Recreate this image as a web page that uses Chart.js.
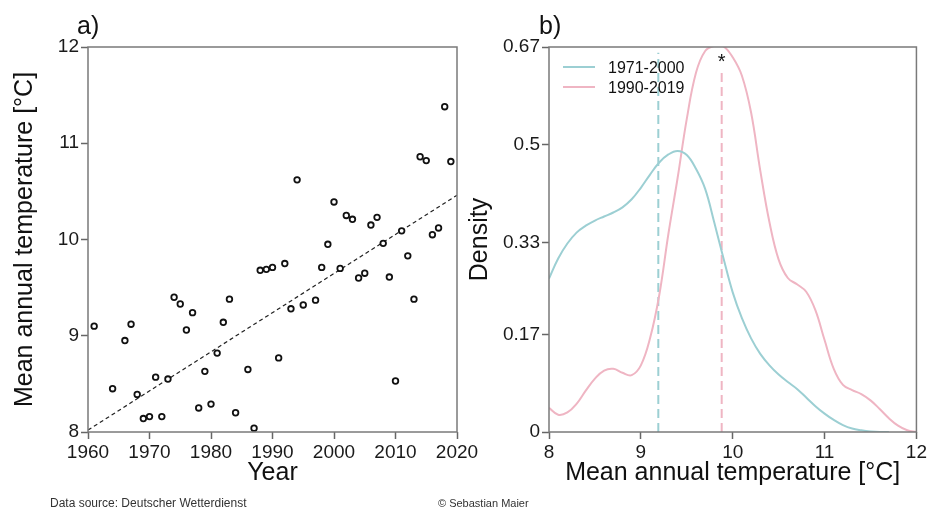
<!DOCTYPE html>
<html>
<head>
<meta charset="utf-8">
<script src="https://cdn.jsdelivr.net/npm/chart.js@4.4.1/dist/chart.umd.min.js"></script>
<style>
  body { margin:0; background:#fff; font-family:"Liberation Sans", Arial, sans-serif; }
  #wrap { position:relative; width:929px; height:507px; overflow:hidden; background:#fff; }
  #c1 { position:absolute; left:0; top:0; }
  #c2 { position:absolute; left:465px; top:0; }
  .panel { position:absolute; top:10px; font-size:25px; line-height:30px; color:#111; }
  .foot { position:absolute; top:497px; line-height:12px; color:#333; white-space:nowrap; }
  .leg { position:absolute; left:563px; font-size:16px; line-height:20px; color:#111; }
  .leg span.line { display:inline-block; width:32px; height:0; border-top:2px solid; vertical-align:middle; margin-right:13px; position:relative; top:-2px; }
</style>
</head>
<body>
<div id="wrap">
  <canvas id="c1" width="485" height="507"></canvas>
  <canvas id="c2" width="464" height="507"></canvas>
  <div class="panel" style="left:77px">a)</div>
  <div class="panel" style="left:539px">b)</div>
  <div id="legend"></div>
  <div class="foot" style="left:50px; font-size:12px">Data source: Deutscher Wetterdienst</div>
  <div class="foot" style="left:438px; font-size:11px">© Sebastian Maier</div>
</div>
<script>
// ---------- Dados: painel a) ----------
const years = [1961,1964,1966,1967,1968,1969,1970,1971,1972,1973,1974,1975,1976,1977,1978,1979,
  1980,1981,1982,1983,1984,1986,1987,1988,1989,1990,1991,1992,1993,1994,1995,1997,1998,1999,
  2000,2001,2002,2003,2004,2005,2006,2007,2008,2009,2010,2011,2012,2013,2014,2015,2016,2017,2018,2019];
const annualTemp = [9.10,8.45,8.95,9.12,8.39,8.14,8.16,8.57,8.16,8.55,9.40,9.33,9.06,9.24,8.25,8.63,
  8.29,8.82,9.14,9.38,8.20,8.65,8.04,9.68,9.69,9.71,8.77,9.75,9.28,10.62,9.32,9.37,9.71,9.95,
  10.39,9.70,10.25,10.21,9.60,9.65,10.15,10.23,9.96,9.61,8.53,10.09,9.83,9.38,10.86,10.82,10.05,10.12,11.38,10.81];
const trendYears = [1960, 2020];
const trendTemp = [8.02, 10.46];
const yearTicks = [1960, 1970, 1980, 1990, 2000, 2010, 2020];

// ---------- Dados: painel b) ----------
const tempGrid = [8.0,8.1,8.2,8.3,8.4,8.5,8.6,8.7,8.8,8.9,9.0,9.1,9.2,9.3,9.4,9.5,9.6,9.7,9.8,9.9,
  10.0,10.1,10.2,10.3,10.4,10.5,10.6,10.7,10.8,10.9,11.0,11.1,11.2,11.3,11.4,11.5,11.6,11.7,11.8,11.9,12.0];
const density7100 = [0.267,0.302,0.328,0.347,0.359,0.368,0.375,0.382,0.391,0.405,0.425,0.448,0.469,0.483,0.489,0.482,0.458,0.423,0.364,0.302,
  0.243,0.198,0.163,0.136,0.116,0.100,0.087,0.075,0.060,0.045,0.032,0.021,0.012,0.006,0.003,0.001,0,0,null,null,null];
const density9019 = [0.042,0.030,0.034,0.049,0.072,0.093,0.107,0.110,0.103,0.099,0.116,0.163,0.238,0.345,0.442,0.545,0.625,0.663,0.672,0.671,
  0.652,0.620,0.556,0.455,0.365,0.300,0.268,0.257,0.244,0.212,0.160,0.110,0.082,0.073,0.066,0.055,0.040,0.024,0.011,0.003,0];
const mean7100 = 9.19;
const mean9019 = 9.88;
const densityTicks = [0, 0.17, 0.33, 0.5, 0.67];
const periods = ['1971-2000', '1990-2019'];
const periodColors = ['#9ccfd3', '#efb5c3'];

// ---------- Estilo comum ----------
const FONT = '"Liberation Sans", Arial, sans-serif';
Chart.defaults.font.family = FONT;
Chart.defaults.color = '#1a1a1a';

const tickGrid = { display:true, drawOnChartArea:false, drawTicks:true, tickLength:7, tickColor:'#666', tickWidth:1.5 };

const frame = {
  id: 'frame',
  afterDraw(chart) {
    const { ctx, chartArea: a } = chart;
    ctx.save();
    ctx.strokeStyle = '#7a7a7a';
    ctx.lineWidth = 1.5;
    ctx.strokeRect(a.left, a.top, a.right - a.left, a.bottom - a.top);
    ctx.restore();
  }
};

// ---------- Painel a) ----------
new Chart(document.getElementById('c1'), {
  type: 'scatter',
  data: {
    datasets: [
      {
        label: 'Jahresmittel',
        data: years.map((y, i) => ({ x: y, y: annualTemp[i] })),
        pointRadius: 2.8, pointBorderWidth: 1.8,
        pointBorderColor: '#111', pointBackgroundColor: '#fff',
        order: 1
      },
      {
        label: 'Trend',
        data: trendYears.map((y, i) => ({ x: y, y: trendTemp[i] })),
        showLine: true, pointRadius: 0,
        borderColor: '#222', borderWidth: 1.2, borderDash: [4, 3],
        order: 2
      }
    ]
  },
  options: {
    responsive: false, animation: false,
    layout: { padding: { top: 47, right: 28, left: 0, bottom: 0 } },
    plugins: { legend: { display: false }, tooltip: { enabled: false } },
    scales: {
      x: {
        type: 'linear', min: 1960, max: 2020,
        afterBuildTicks: axis => { axis.ticks = yearTicks.map(v => ({ value: v })); },
        afterFit: s => { s.height = 75; },
        grid: tickGrid, border: { display: false },
        ticks: { font: { size: 19 }, padding: 2, color: '#1a1a1a', callback: v => String(v) },
        title: { display: true, text: 'Year', font: { size: 25 }, color: '#111', padding: { top: 0, bottom: 19 } }
      },
      y: {
        min: 8, max: 12,
        ticks: { stepSize: 1, font: { size: 19 }, padding: 2, color: '#1a1a1a' },
        afterFit: s => { s.width = 88; },
        grid: tickGrid, border: { display: false },
        title: { display: true, text: 'Mean annual temperature [°C]', font: { size: 25 }, color: '#111', padding: { top: 10, bottom: 0 } }
      }
    }
  },
  plugins: [frame]
});

// ---------- Painel b) ----------
const starPlugin = {
  id: 'star',
  afterDatasetsDraw(chart) {
    const { ctx, chartArea: a } = chart;
    const x = chart.scales.x.getPixelForValue(mean9019);
    ctx.save();
    ctx.fillStyle = '#111';
    ctx.font = '20px ' + FONT;
    ctx.textAlign = 'center';
    ctx.textBaseline = 'alphabetic';
    ctx.fillText('*', x, a.top + 21);
    ctx.restore();
  }
};

new Chart(document.getElementById('c2'), {
  type: 'line',
  data: {
    datasets: [
      {
        label: periods[0],
        data: tempGrid.map((t, i) => ({ x: t, y: density7100[i] })),
        borderColor: periodColors[0], borderWidth: 2, pointRadius: 0, tension: 0.4
      },
      {
        label: periods[1],
        data: tempGrid.map((t, i) => ({ x: t, y: density9019[i] })),
        borderColor: periodColors[1], borderWidth: 2, pointRadius: 0, tension: 0.4
      },
      {
        label: 'mean ' + periods[0],
        data: [{ x: mean7100, y: 0 }, { x: mean7100, y: 0.66 }],
        borderColor: periodColors[0], borderWidth: 2, borderDash: [9, 5], pointRadius: 0
      },
      {
        label: 'mean ' + periods[1],
        data: [{ x: mean9019, y: 0 }, { x: mean9019, y: 0.63 }],
        borderColor: periodColors[1], borderWidth: 2, borderDash: [9, 5], pointRadius: 0
      }
    ]
  },
  options: {
    responsive: false, animation: false,
    layout: { padding: { top: 47, right: 11, left: 0, bottom: 0 } },
    plugins: { legend: { display: false }, tooltip: { enabled: false } },
    scales: {
      x: {
        type: 'linear', min: 8, max: 12,
        ticks: { stepSize: 1, font: { size: 19 }, padding: 2, color: '#1a1a1a' },
        afterFit: s => { s.height = 75; },
        grid: tickGrid, border: { display: false },
        title: { display: true, text: 'Mean annual temperature [°C]', font: { size: 25 }, color: '#111', padding: { top: 0, bottom: 19 } }
      },
      y: {
        min: 0, max: 0.67,
        afterBuildTicks: axis => { axis.ticks = densityTicks.map(v => ({ value: v })); },
        ticks: { font: { size: 19 }, padding: 2, color: '#1a1a1a', callback: v => String(v) },
        afterFit: s => { s.width = 84; },
        grid: tickGrid, border: { display: false },
        title: { display: true, text: 'Density', font: { size: 25 }, color: '#111', padding: { top: 0, bottom: 0 } }
      }
    }
  },
  plugins: [frame, starPlugin]
});

// ---------- Legenda ----------
const legendEl = document.getElementById('legend');
periods.forEach((p, i) => {
  const row = document.createElement('div');
  row.className = 'leg';
  row.style.top = (58 + i * 20) + 'px';
  row.innerHTML = `<span class="line" style="border-color:${periodColors[i]}"></span>${p}`;
  legendEl.appendChild(row);
});
</script>
</body>
</html>
